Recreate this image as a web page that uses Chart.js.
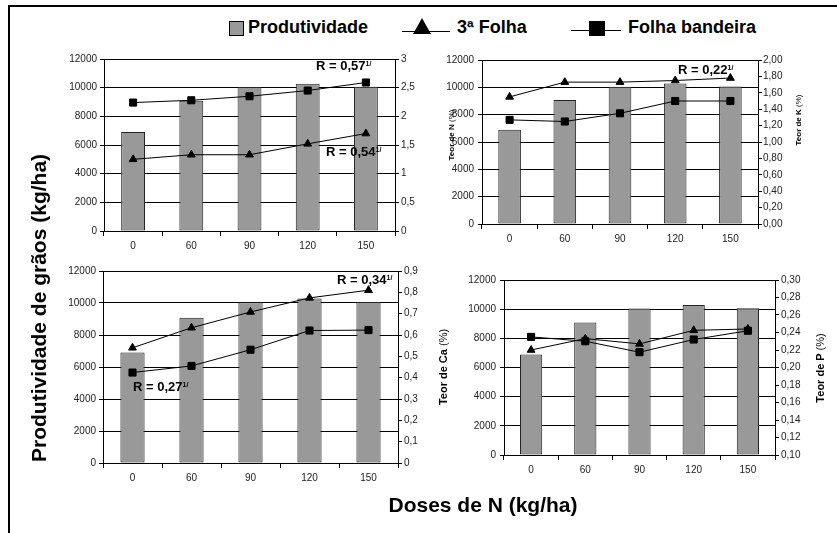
<!DOCTYPE html>
<html>
<head>
<meta charset="utf-8">
<script src="https://cdn.jsdelivr.net/npm/chart.js@4"></script>
<style>
  html,body{margin:0;padding:0;background:#fff;}
  body{width:837px;height:533px;position:relative;overflow:hidden;font-family:"Liberation Sans",Arial,sans-serif;color:#000;}
  .abs{position:absolute;}
  canvas{position:absolute;}
  .frame{position:absolute;left:8px;top:5px;width:900px;height:600px;border-top:2px solid #000;border-left:2px solid #000;}
  .leg{position:absolute;font-weight:bold;font-size:18px;line-height:18px;white-space:nowrap;}
  .vt{position:absolute;white-space:nowrap;transform:translate(-50%,-50%) rotate(-90deg);font-weight:bold;}
  .ann{position:absolute;font-weight:bold;font-size:13px;line-height:13px;white-space:nowrap;}
  .ann sup{font-size:7px;vertical-align:top;position:relative;top:-2px;}
</style>
</head>
<body>
<div class="frame"></div>

<!-- legend -->
<div class="abs" style="left:229px;top:21px;width:13px;height:13px;background:#999;border:1px solid #000;"></div>
<div class="leg" style="left:248px;top:18px;">Produtividade</div>
<div class="abs" style="left:402px;top:31px;width:48px;height:0;border-top:1px solid #000;"></div>
<div class="abs" style="left:413px;top:18px;width:0;height:0;border-left:9px solid transparent;border-right:9px solid transparent;border-bottom:16px solid #000;"></div>
<div class="leg" style="left:457px;top:18px;">3ª Folha</div>
<div class="abs" style="left:571px;top:30px;width:50px;height:0;border-top:1px solid #000;"></div>
<div class="abs" style="left:589px;top:21px;width:16px;height:15px;background:#000;"></div>
<div class="leg" style="left:628px;top:18px;">Folha bandeira</div>

<canvas id="c1" width="400" height="215" style="left:50px;top:50px;"></canvas>
<canvas id="c2" width="355" height="210" style="left:440px;top:50px;"></canvas>
<canvas id="c3" width="405" height="235" style="left:50px;top:262px;"></canvas>
<canvas id="c4" width="360" height="215" style="left:455px;top:270px;"></canvas>

<!-- axis titles -->
<div class="vt" style="left:39px;top:308px;font-size:21px;">Produtividade de grãos (kg/ha)</div>
<div class="abs" style="left:483px;top:505px;transform:translate(-50%,-50%);font-weight:bold;font-size:21px;white-space:nowrap;">Doses de N (kg/ha)</div>
<div class="vt" style="left:451px;top:135px;font-size:8px;">Teor de N <span style="font-weight:normal">(%)</span></div>
<div class="vt" style="left:798px;top:120px;font-size:8px;">Teor de K <span style="font-weight:normal">(%)</span></div>
<div class="vt" style="left:443px;top:367px;font-size:11px;">Teor de Ca <span style="font-weight:normal">(%)</span></div>
<div class="vt" style="left:820px;top:368px;font-size:11px;">Teor de P <span style="font-weight:normal">(%)</span></div>

<!-- annotations -->
<div class="ann" style="left:316px;top:59px;">R = 0,57<sup>1/</sup></div>
<div class="ann" style="left:326px;top:145px;">R = 0,54<sup>1/</sup></div>
<div class="ann" style="left:678px;top:63px;">R = 0,22<sup>1/</sup></div>
<div class="ann" style="left:337px;top:273px;">R = 0,34<sup>1/</sup></div>
<div class="ann" style="left:133px;top:380px;">R = 0,27<sup>1/</sup></div>

<script>
// ---- data ----
const doses = ['0', '60', '90', '120', '150'];
const produtividade = [6900, 9080, 10050, 10280, 10060];

const nFolha3   = [1.25, 1.33, 1.33, 1.52, 1.70];
const nBandeira = [2.24, 2.28, 2.35, 2.45, 2.59];

const kFolha3   = [1.55, 1.73, 1.73, 1.75, 1.78];
const kBandeira = [1.27, 1.25, 1.35, 1.50, 1.50];

const caFolha3   = [0.540, 0.634, 0.708, 0.774, 0.810];
const caBandeira = [0.424, 0.455, 0.531, 0.621, 0.623];

const pFolha3   = [0.220, 0.233, 0.227, 0.2425, 0.244];
const pBandeira = [0.235, 0.230, 0.2175, 0.232, 0.242];

const prodTicks = ['0', '2000', '4000', '6000', '8000', '10000', '12000'];
const nTicks  = ['0', '0,5', '1', '1,5', '2', '2,5', '3'];
const kTicks  = ['0,00', '0,20', '0,40', '0,60', '0,80', '1,00', '1,20', '1,40', '1,60', '1,80', '2,00'];
const caTicks = ['0', '0,1', '0,2', '0,3', '0,4', '0,5', '0,6', '0,7', '0,8', '0,9'];
const pTicks  = ['0,10', '0,12', '0,14', '0,16', '0,18', '0,20', '0,22', '0,24', '0,26', '0,28', '0,30'];

// ---- build ----
const FONT = {family: '"Liberation Sans", Arial, sans-serif', size: 10};
const TXT = '#222';

function makeChart(id, cfg) {
  const ds = [
    {type: 'bar', data: produtividade, backgroundColor: '#999999', borderColor: '#222', borderWidth: 1,
     borderSkipped: false, barPercentage: 0.41, categoryPercentage: 1, yAxisID: 'y', order: 2},
    {type: 'line', data: cfg.folha3, yAxisID: 'y1', borderColor: '#000', borderWidth: 1,
     pointStyle: 'triangle', pointRadius: 4.5, pointBackgroundColor: '#000', pointBorderColor: '#000',
     pointBorderWidth: 1, tension: 0, order: 1},
    {type: 'line', data: cfg.bandeira, yAxisID: 'y1', borderColor: '#000', borderWidth: 1,
     pointStyle: 'rect', pointRadius: 5, pointBackgroundColor: '#000', pointBorderColor: '#000',
     pointBorderWidth: 1, tension: 0, order: 0}
  ];
  return new Chart(document.getElementById(id), {
    data: {labels: doses, datasets: ds},
    options: {
      responsive: false, animation: false, devicePixelRatio: 1,
      layout: {padding: {top: cfg.top, left: 0, right: 0, bottom: 0}},
      plugins: {legend: {display: false}, tooltip: {enabled: false}},
      scales: {
        x: {
          offset: true,
          grid: {offset: true, drawOnChartArea: false, drawTicks: true, tickLength: 5, color: '#000'},
          border: {display: true, color: '#000', width: 1},
          ticks: {color: TXT, font: FONT, padding: 4, maxRotation: 0},
          afterFit: s => { s.height = cfg.xh; }
        },
        y: {
          position: 'left', min: 0, max: 12000,
          ticks: {stepSize: 2000, color: TXT, font: FONT, padding: cfg.lpad,
                  callback: (v, i) => prodTicks[i] !== undefined ? prodTicks[i] : v},
          grid: {color: '#000', lineWidth: 1, tickLength: 4},
          border: {display: true, color: '#000', width: 1},
          afterFit: s => { s.width = cfg.lw; }
        },
        y1: {
          position: 'right', min: cfg.rmin, max: cfg.rmax,
          ticks: {stepSize: cfg.rstep, color: TXT, font: FONT, padding: cfg.rpad,
                  callback: (v, i) => cfg.rticks[i] !== undefined ? cfg.rticks[i] : v},
          grid: {drawOnChartArea: false, color: '#000', tickLength: 4},
          border: {display: true, color: '#000', width: 1},
          afterFit: s => { s.width = cfg.rw; }
        }
      }
    }
  });
}

makeChart('c1', {folha3: nFolha3, bandeira: nBandeira, rmin: 0, rmax: 3, rstep: 0.5, rticks: nTicks,
                 top: 7, xh: 34, lw: 54, rw: 55, lpad: 3, rpad: 2});
makeChart('c2', {folha3: kFolha3, bandeira: kBandeira, rmin: 0, rmax: 2, rstep: 0.2, rticks: kTicks,
                 top: 9, xh: 36, lw: 42, rw: 37, lpad: 4, rpad: 1});
makeChart('c3', {folha3: caFolha3, bandeira: caBandeira, rmin: 0, rmax: 0.9, rstep: 0.1, rticks: caTicks,
                 top: 9, xh: 34, lw: 53, rw: 57, lpad: 3, rpad: 2});
makeChart('c4', {folha3: pFolha3, bandeira: pBandeira, rmin: 0.1, rmax: 0.3, rstep: 0.02, rticks: pTicks,
                 top: 10, xh: 30, lw: 49, rw: 40, lpad: 4, rpad: 2});
</script>
</body>
</html>
